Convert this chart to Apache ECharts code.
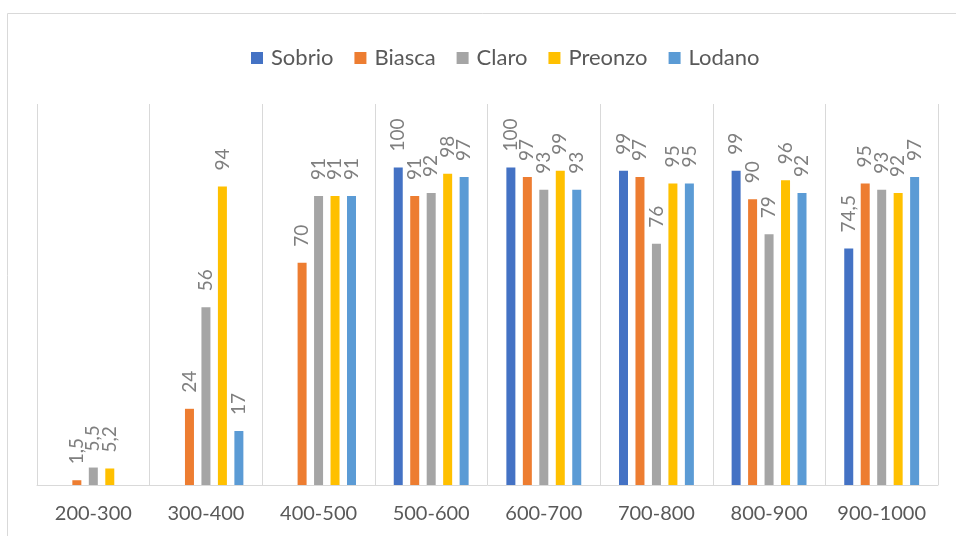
<!DOCTYPE html>
<html>
<head>
<meta charset="utf-8">
<script src="https://cdn.jsdelivr.net/npm/echarts@6/dist/echarts.min.js"></script>
<style>
  html, body { margin: 0; padding: 0; background: #fff; }
  #chart { width: 956px; height: 536px; }
</style>
</head>
<body>
<div id="chart"></div>
<script>
const categories = ["200-300", "300-400", "400-500", "500-600", "600-700", "700-800", "800-900", "900-1000"];
const sobrio  = [null, null, null, 100, 100, 99, 99, 74.5];
const biasca  = [1.5, 24, 70, 91, 97, 97, 90, 95];
const claro   = [5.5, 56, 91, 92, 93, 76, 79, 93];
const preonzo = [5.2, 94, 91, 98, 99, 95, 96, 92];
const lodano  = [null, 17, 91, 97, 93, 95, 92, 97];

const seriesDefs = [
  { name: "Sobrio", data: sobrio, color: "#4472C4" },
  { name: "Biasca", data: biasca, color: "#ED7D31" },
  { name: "Claro", data: claro, color: "#A5A5A5" },
  { name: "Preonzo", data: preonzo, color: "#FFC000" },
  { name: "Lodano", data: lodano, color: "#5B9BD5" },
];

const font = "Lato, 'Open Sans', sans-serif";
const chart = echarts.init(document.getElementById("chart"));

chart.setOption({
  animation: false,
  textStyle: { fontFamily: font },
  graphic: [
    {
      type: "rect",
      shape: { x: 7.5, y: 13.5, width: 980, height: 560 },
      style: { fill: "none", stroke: "#d9d9d9", lineWidth: 1 },
      silent: true,
    },
  ],
  legend: {
    top: 42,
    left: 246,
    icon: "rect",
    itemWidth: 12,
    itemHeight: 12,
    itemGap: 21,
    textStyle: { color: "#595959", fontSize: 22, fontFamily: font, padding: [0, 0, 0, 3] },
  },
  grid: { left: 37, right: 18, top: 104, bottom: 51, containLabel: false },
  xAxis: {
    type: "category",
    data: categories,
    axisLine: { lineStyle: { color: "#d9d9d9" } },
    axisTick: { show: false },
    splitLine: { show: true, interval: 0, lineStyle: { color: "#d9d9d9" } },
    axisLabel: { color: "#595959", fontSize: 20, margin: 19, interval: 0, fontFamily: font },
  },
  yAxis: { type: "value", min: 0, max: 120, show: false },
  series: seriesDefs.map((s) => ({
    name: s.name,
    type: "bar",
    data: s.data,
    barWidth: 9,
    barGap: "83%",
    itemStyle: { color: s.color },
    label: {
      show: true,
      position: "top",
      rotate: 90,
      align: "left",
      verticalAlign: "middle",
      distance: 16,
      color: "#7f7f7f",
      fontSize: 19,
      fontFamily: font,
      formatter: (p) => String(p.value).replace(".", ","),
    },
  })),
});
</script>
</body>
</html>
